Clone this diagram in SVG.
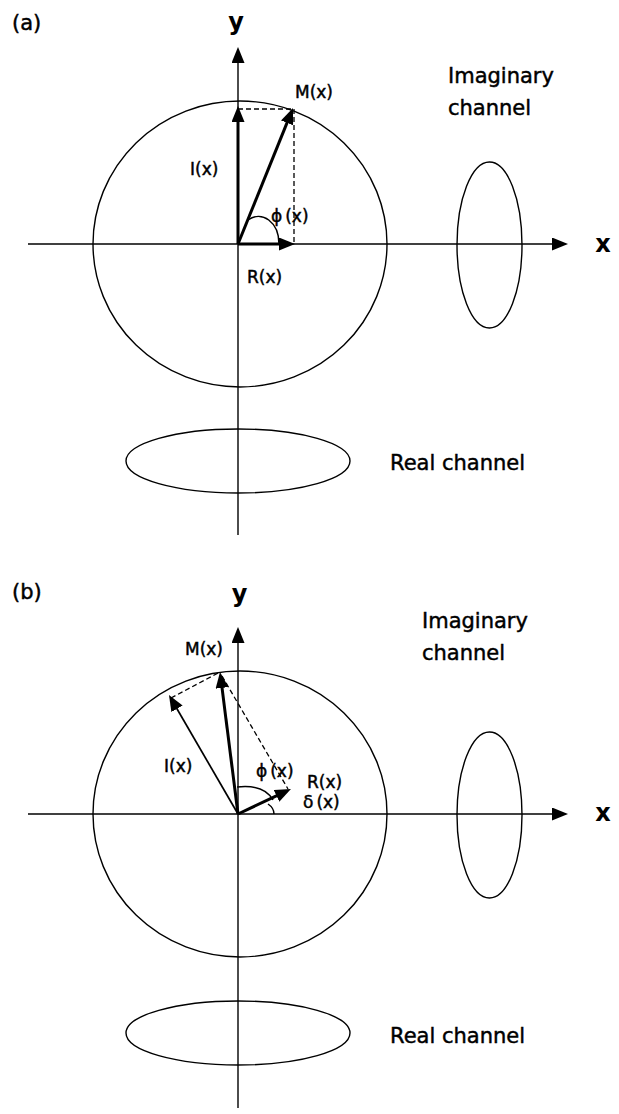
<svg xmlns="http://www.w3.org/2000/svg" width="619" height="1114" viewBox="0 0 619 1114">
<style>
.ln{stroke:#000;fill:none;stroke-width:1.4}
.thk{stroke:#000;fill:none;stroke-width:3}
.thin{stroke:#000;fill:none;stroke-width:1.7}
.dash{stroke:#000;fill:none;stroke-width:1.3;stroke-dasharray:5 3}
.arc{stroke:#000;fill:none;stroke-width:1.5}
.t{font-family:"DejaVu Sans",sans-serif;fill:#000;stroke:#000;stroke-width:0.45}
.lab{font-size:17px}
.big{font-size:21px}
.ax{font-size:24px;font-weight:bold;stroke-width:0}
</style>
<defs>
<marker id="ah" viewBox="0 0 16 13" markerWidth="16" markerHeight="13" markerUnits="userSpaceOnUse" refX="1" refY="6.5" orient="auto"><path d="M0,0 L16,6.5 L0,13 z" fill="#000"/></marker>
</defs>
<rect width="619" height="1114" fill="#fff"/>

<!-- Panel (a) -->
<g id="panel-a-title"><text class="t big" x="12" y="30">(a)</text></g>
<g id="a-circle"><ellipse class="ln" cx="240" cy="244" rx="147" ry="143"/></g>
<g id="a-imaginary-channel"><ellipse class="ln" cx="489.5" cy="245" rx="32.5" ry="83"/>
<text class="t big" x="448" y="83">Imaginary</text><text class="t big" x="448" y="115">channel</text></g>
<g id="a-real-channel"><ellipse class="ln" cx="238" cy="461" rx="112" ry="32"/>
<text class="t big" x="390" y="470">Real channel</text></g>
<g id="a-labels">
<text class="t ax" x="236" y="30" text-anchor="middle">y</text>
<text class="t ax" x="603" y="252" text-anchor="middle">x</text>
<text class="t lab" x="295" y="98">M(x)</text>
<text class="t lab" x="190" y="175">I(x)</text>
<text class="t lab" x="271" y="222">ϕ<tspan dx="3">(x)</tspan></text>
<text class="t lab" x="247" y="283">R(x)</text>
</g>
<g id="a-connectors">
<line class="ln" x1="28" y1="244" x2="553" y2="244" marker-end="url(#ah)"/>
<line class="ln" x1="238" y1="535" x2="238" y2="62" marker-end="url(#ah)"/>
<line class="thk" x1="238" y1="244" x2="238" y2="121" marker-end="url(#ah)"/>
<line class="thk" x1="238" y1="244" x2="280" y2="244" marker-end="url(#ah)"/>
<line class="thk" x1="238" y1="244" x2="287.4" y2="121.9" marker-end="url(#ah)"/>
<path class="dash" d="M238,109 H294 V244"/>
<path class="arc" d="M248,220 C262,210 279,222 279,244"/>
</g>

<!-- Panel (b) -->
<g id="panel-b-title"><text class="t big" x="12" y="599">(b)</text></g>
<g id="b-circle"><ellipse class="ln" cx="240" cy="814" rx="147" ry="143"/></g>
<g id="b-imaginary-channel"><ellipse class="ln" cx="489.5" cy="815" rx="32.5" ry="83"/>
<text class="t big" x="422" y="628">Imaginary</text><text class="t big" x="422" y="660">channel</text></g>
<g id="b-real-channel"><ellipse class="ln" cx="238" cy="1033" rx="112" ry="32"/>
<text class="t big" x="390" y="1043">Real channel</text></g>
<g id="b-labels">
<text class="t ax" x="239.5" y="602" text-anchor="middle">y</text>
<text class="t ax" x="603" y="821" text-anchor="middle">x</text>
<text class="t lab" x="185" y="655">M(x)</text>
<text class="t lab" x="164" y="772">I(x)</text>
<text class="t lab" x="256" y="777">ϕ<tspan dx="3">(x)</tspan></text>
<text class="t lab" x="307" y="788">R(x)</text>
<text class="t lab" x="303" y="808">δ<tspan dx="3">(x)</tspan></text>
</g>
<g id="b-connectors">
<line class="ln" x1="28" y1="814" x2="553" y2="814" marker-end="url(#ah)"/>
<line class="ln" x1="238" y1="1108" x2="238" y2="642" marker-end="url(#ah)"/>
<line class="thin" x1="238" y1="814" x2="176.5" y2="708" marker-end="url(#ah)"/>
<line class="thk" x1="238" y1="814" x2="221.9" y2="686.9" marker-end="url(#ah)"/>
<line class="thk" x1="238" y1="814" x2="277.4" y2="795.4" marker-end="url(#ah)"/>
<path class="dash" d="M171,698 L220,672"/>
<path class="dash" d="M222,676 L288,789"/>
<path class="arc" d="M237,787 Q264,784 273,800"/>
<path class="arc" d="M268,804 Q274,808 274,814"/>
</g>
</svg>
